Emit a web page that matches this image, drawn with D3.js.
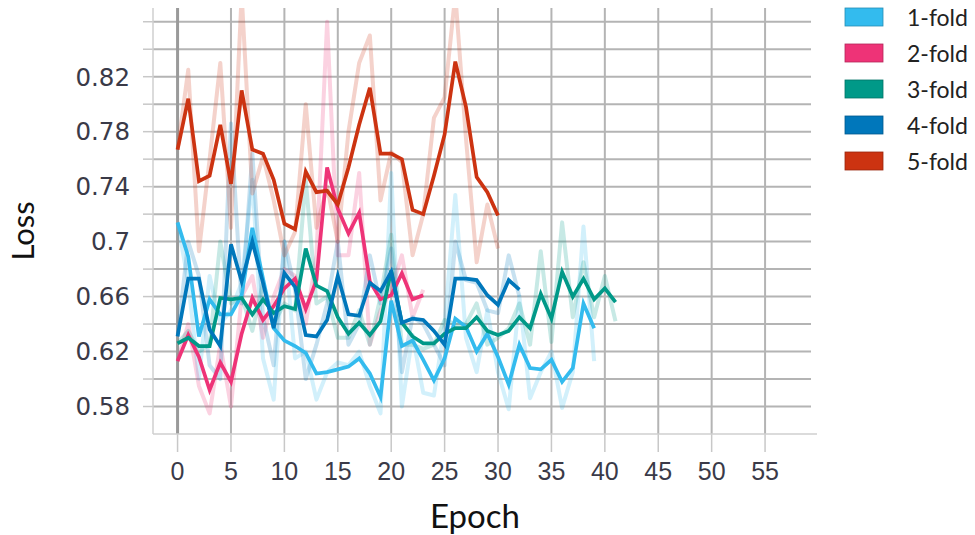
<!DOCTYPE html>
<html>
<head>
<meta charset="utf-8">
<script src="https://cdn.jsdelivr.net/npm/d3@7"></script>
<style>
  body { margin: 0; background: #fff; }
</style>
</head>
<body>
<div id="chart"></div>
<script>
// fold names and colours
const folds = ["1-fold", "2-fold", "3-fold", "4-fold", "5-fold"];
const colors = ["#33bbee", "#ee3377", "#009988", "#0077bb", "#cc3311"];

// smoothed loss per epoch (bold lines)
const smooth1 = [0.714, 0.689, 0.631, 0.658, 0.647, 0.647, 0.661, 0.710, 0.673, 0.637,
  0.628, 0.624, 0.619, 0.604, 0.605, 0.607, 0.609, 0.615, 0.604, 0.587,
  0.657, 0.624, 0.628, 0.614, 0.599, 0.615, 0.644, 0.638, 0.620, 0.633,
  0.616, 0.596, 0.625, 0.608, 0.607, 0.614, 0.598, 0.608, 0.655, 0.637];
const smooth2 = [0.613, 0.632, 0.616, 0.592, 0.612, 0.598, 0.633, 0.659, 0.643, 0.653,
  0.666, 0.673, 0.651, 0.672, 0.754, 0.724, 0.706, 0.721, 0.671, 0.658,
  0.661, 0.677, 0.658, 0.661];
const smooth3 = [0.626, 0.630, 0.624, 0.624, 0.659, 0.658, 0.659, 0.647, 0.658, 0.648,
  0.653, 0.651, 0.695, 0.668, 0.664, 0.645, 0.633, 0.641, 0.632, 0.642,
  0.679, 0.641, 0.631, 0.626, 0.626, 0.633, 0.637, 0.637, 0.645, 0.635,
  0.632, 0.635, 0.645, 0.637, 0.662, 0.644, 0.678, 0.660, 0.673, 0.658,
  0.666, 0.656];
const smooth4 = [0.631, 0.673, 0.673, 0.636, 0.624, 0.698, 0.671, 0.700, 0.670, 0.637,
  0.677, 0.667, 0.632, 0.631, 0.643, 0.675, 0.647, 0.646, 0.670, 0.664,
  0.678, 0.641, 0.644, 0.643, 0.635, 0.625, 0.673, 0.673, 0.672, 0.661,
  0.654, 0.672, 0.665];
const smooth5 = [0.767, 0.804, 0.744, 0.748, 0.785, 0.742, 0.810, 0.767, 0.764, 0.745,
  0.713, 0.709, 0.751, 0.736, 0.737, 0.727, 0.754, 0.785, 0.812, 0.764,
  0.764, 0.760, 0.723, 0.720, 0.748, 0.778, 0.831, 0.798, 0.747, 0.736,
  0.719];

// raw loss per epoch (faint lines)
const raw1 = [0.714, 0.670, 0.600, 0.675, 0.640, 0.650, 0.670, 0.745, 0.615, 0.585,
  0.700, 0.615, 0.620, 0.585, 0.605, 0.612, 0.610, 0.620, 0.595, 0.575,
  0.750, 0.580, 0.632, 0.590, 0.588, 0.640, 0.734, 0.630, 0.605, 0.650,
  0.605, 0.578, 0.660, 0.586, 0.605, 0.620, 0.579, 0.605, 0.711, 0.613];
const raw2 = [0.613, 0.640, 0.595, 0.575, 0.625, 0.580, 0.660, 0.675, 0.630, 0.660,
  0.680, 0.675, 0.640, 0.690, 0.860, 0.690, 0.690, 0.750, 0.625, 0.650,
  0.665, 0.690, 0.645, 0.665];
const raw3 = [0.626, 0.635, 0.620, 0.625, 0.700, 0.655, 0.660, 0.635, 0.670, 0.640,
  0.655, 0.650, 0.745, 0.655, 0.660, 0.630, 0.630, 0.650, 0.625, 0.660,
  0.705, 0.625, 0.625, 0.622, 0.625, 0.643, 0.640, 0.640, 0.655, 0.625,
  0.630, 0.637, 0.655, 0.625, 0.693, 0.627, 0.714, 0.645, 0.685, 0.645,
  0.675, 0.642];
const raw4 = [0.631, 0.700, 0.675, 0.610, 0.600, 0.786, 0.655, 0.764, 0.645, 0.610,
  0.700, 0.665, 0.600, 0.625, 0.655, 0.700, 0.625, 0.640, 0.690, 0.655,
  0.695, 0.605, 0.645, 0.640, 0.625, 0.610, 0.700, 0.672, 0.670, 0.650,
  0.648, 0.690, 0.660];
const raw5 = [0.767, 0.825, 0.693, 0.760, 0.830, 0.710, 0.880, 0.735, 0.762, 0.730,
  0.690, 0.707, 0.800, 0.710, 0.740, 0.700, 0.780, 0.830, 0.850, 0.730,
  0.765, 0.758, 0.690, 0.720, 0.790, 0.805, 0.880, 0.775, 0.685, 0.727,
  0.695];

const smoothSeries = [smooth1, smooth2, smooth3, smooth4, smooth5];
const rawSeries = [raw1, raw2, raw3, raw4, raw5];

const xTicks = d3.range(0, 60, 5);
const yTicks = [0.58, 0.62, 0.66, 0.7, 0.74, 0.78, 0.82];
const yGrid = d3.range(0.58, 0.865, 0.02);

// chart frame
const width = 975, height = 535;
const margin = { top: 8, right: 164, bottom: 101, left: 153 };

const svg = d3.select("#chart").append("svg")
  .attr("width", width)
  .attr("height", height);

const x = d3.scaleLinear().domain([-2.3, 59.3]).range([margin.left, width - margin.right]);
const y = d3.scaleLinear().domain([0.56, 0.87]).range([height - margin.bottom, margin.top]);

const tickFont = "'Liberation Sans', Arial, sans-serif";
const titleFont = "Lato, 'Open Sans', sans-serif";

// horizontal grid + ticks on the left
svg.append("g")
  .selectAll("line")
  .data(yGrid)
  .join("line")
  .attr("x1", margin.left - 10)
  .attr("x2", margin.left)
  .attr("y1", d => y(d))
  .attr("y2", d => y(d))
  .attr("stroke", "#c8c8c8")
  .attr("stroke-width", 1.5);

svg.append("g")
  .selectAll("line")
  .data(yGrid)
  .join("line")
  .attr("x1", margin.left)
  .attr("x2", width - margin.right)
  .attr("y1", d => y(d))
  .attr("y2", d => y(d))
  .attr("stroke", "#b4b4b4")
  .attr("stroke-width", 2);

// vertical grid + ticks below
svg.append("g")
  .selectAll("line")
  .data(xTicks)
  .join("line")
  .attr("x1", d => x(d))
  .attr("x2", d => x(d))
  .attr("y1", height - margin.bottom)
  .attr("y2", height - margin.bottom + 18)
  .attr("stroke", "#c8c8c8")
  .attr("stroke-width", 1.5);

svg.append("g")
  .selectAll("line")
  .data(xTicks)
  .join("line")
  .attr("x1", d => x(d))
  .attr("x2", d => x(d))
  .attr("y1", margin.top)
  .attr("y2", height - margin.bottom)
  .attr("stroke", d => d === 0 ? "#9a9a9a" : "#b4b4b4")
  .attr("stroke-width", d => d === 0 ? 3 : 2);

// axis lines
svg.append("line")
  .attr("x1", margin.left).attr("x2", margin.left)
  .attr("y1", margin.top).attr("y2", height - margin.bottom)
  .attr("stroke", "#cfcfcf").attr("stroke-width", 1.5);
svg.append("line")
  .attr("x1", margin.left).attr("x2", width - margin.right + 6)
  .attr("y1", height - margin.bottom).attr("y2", height - margin.bottom)
  .attr("stroke", "#cfcfcf").attr("stroke-width", 1.5);

// tick labels
svg.append("g")
  .selectAll("text")
  .data(yTicks)
  .join("text")
  .attr("x", 130)
  .attr("y", d => y(d))
  .attr("dy", "0.36em")
  .attr("text-anchor", "end")
  .attr("font-family", "'DejaVu Sans', sans-serif")
  .attr("font-size", 24.5)
  .attr("fill", "#3a3a48")
  .text(d => d);

svg.append("g")
  .selectAll("text")
  .data(xTicks)
  .join("text")
  .attr("x", d => x(d))
  .attr("y", 480)
  .attr("text-anchor", "middle")
  .attr("font-family", tickFont)
  .attr("font-size", 25)
  .attr("fill", "#3a3a48")
  .text(d => d);

// axis titles
svg.append("text")
  .attr("x", 475)
  .attr("y", 528)
  .attr("text-anchor", "middle")
  .attr("font-family", titleFont)
  .attr("font-size", 33)
  .attr("fill", "#111")
  .text("Epoch");

svg.append("text")
  .attr("transform", "translate(34,231) rotate(-90)")
  .attr("text-anchor", "middle")
  .attr("font-family", titleFont)
  .attr("font-size", 31)
  .attr("fill", "#111")
  .text("Loss");

// clip lines to the panel
svg.append("clipPath").attr("id", "panel")
  .append("rect")
  .attr("x", margin.left)
  .attr("y", margin.top)
  .attr("width", width - margin.right - margin.left)
  .attr("height", height - margin.bottom - margin.top);

const line = d3.line()
  .x((d, i) => x(i))
  .y(d => y(d));

const lines = svg.append("g").attr("clip-path", "url(#panel)");

lines.selectAll(".raw")
  .data(rawSeries)
  .join("path")
  .attr("class", "raw")
  .attr("d", line)
  .attr("fill", "none")
  .attr("stroke", (d, i) => colors[i])
  .attr("stroke-opacity", 0.22)
  .attr("stroke-width", 4)
  .attr("stroke-linejoin", "round");

lines.selectAll(".smooth")
  .data(smoothSeries)
  .join("path")
  .attr("class", "smooth")
  .attr("d", line)
  .attr("fill", "none")
  .attr("stroke", (d, i) => colors[i])
  .attr("stroke-width", 3.7)
  .attr("stroke-linejoin", "miter");

// legend
const legend = svg.append("g")
  .selectAll("g")
  .data(folds)
  .join("g")
  .attr("transform", (d, i) => `translate(845,${8 + i * 36})`);

legend.append("rect")
  .attr("width", 38)
  .attr("height", 18)
  .attr("fill", (d, i) => colors[i])
  .attr("stroke", (d, i) => d3.color(colors[i]).darker(0.8))
  .attr("stroke-width", 0.8);

legend.append("text")
  .attr("x", 62)
  .attr("y", 10)
  .attr("dy", "0.35em")
  .attr("font-family", titleFont)
  .attr("font-size", 23)
  .attr("fill", "#222")
  .text(d => d);
</script>
</body>
</html>
